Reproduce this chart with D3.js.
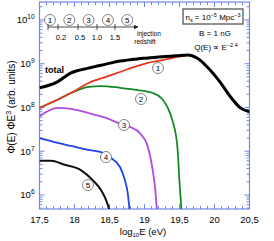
<!DOCTYPE html>
<html>
<head>
<meta charset="utf-8">
<script src="https://cdn.jsdelivr.net/npm/d3@7"></script>
<style>
  body { margin: 0; background: #fff; }
  svg { display: block; font-family: "Liberation Sans", Arial, sans-serif; }
</style>
</head>
<body>
<div id="chart"></div>
<script>
// log10 E (eV) and log10 of flux
const totalE = [17.5, 17.75, 17.95, 18.2, 18.45, 18.65, 18.9, 19.05, 19.25, 19.45, 19.62, 19.75, 19.9, 20.08, 20.23, 20.37, 20.5];
const totalF = [8.45, 8.58, 8.79, 8.90, 8.99, 9.06, 9.11, 9.13, 9.16, 9.18, 9.20, 9.13, 8.92, 8.58, 8.24, 7.99, 7.90];

const z1E = [17.5, 17.75, 17.95, 18.2, 18.45, 18.65, 18.9, 19.05, 19.25, 19.45, 19.6];
const z1F = [7.99, 8.17, 8.33, 8.56, 8.70, 8.81, 8.95, 9.02, 9.08, 9.15, 9.19];

const z2E = [17.5, 17.75, 17.95, 18.2, 18.38, 18.65, 18.93, 19.12, 19.25, 19.33, 19.4, 19.47, 19.5, 19.53];
const z2F = [7.99, 8.17, 8.33, 8.47, 8.49, 8.45, 8.39, 8.33, 8.20, 8.0, 7.7, 7.1, 6.3, 5.6];

const z3E = [17.5, 17.76, 17.95, 18.2, 18.45, 18.62, 18.8, 18.93, 19.04, 19.11, 19.15, 19.18];
const z3F = [7.8, 7.99, 7.97, 7.87, 7.76, 7.65, 7.55, 7.42, 7.14, 6.64, 6.18, 5.6];

const z4E = [17.5, 17.76, 17.95, 18.19, 18.38, 18.52, 18.65, 18.72, 18.76, 18.79];
const z4F = [7.30, 7.19, 7.12, 7.03, 6.98, 6.85, 6.64, 6.34, 6.05, 5.6];

const z5E = [17.5, 17.66, 17.86, 18.09, 18.26, 18.38, 18.45, 18.51];
const z5F = [6.78, 6.78, 6.69, 6.57, 6.34, 6.11, 5.89, 5.6];

const xTicks = [17.5, 18, 18.5, 19, 19.5, 20, 20.5];
const yTicks = [6, 7, 8, 9, 10];
const redshiftLabels = ["0.2", "0.5", "1.0", "1.5"];

const width = 274, height = 241;
const margin = {top: 2, right: 24.5, bottom: 32, left: 39.5};
const w = width - margin.left - margin.right;
const h = height - margin.top - margin.bottom;
const axisColor = "#7088e6";

const svg = d3.select("#chart").append("svg")
    .attr("width", width).attr("height", height);
const g = svg.append("g").attr("transform", `translate(${margin.left},${margin.top})`);

const x = d3.scaleLinear().domain([17.5, 20.5]).range([0, w]);
const y = d3.scaleLinear().domain([5.68, 10.41]).range([h, 0]);

g.append("defs").append("clipPath").attr("id", "clip")
  .append("rect").attr("width", w).attr("height", h);

// frame + ticks
g.append("rect").attr("width", w).attr("height", h)
  .attr("fill", "none").attr("stroke", axisColor).attr("stroke-width", 1.2);

const xMinor = d3.range(17.5, 20.51, 0.1);
const tickG = g.append("g").attr("stroke", axisColor).attr("stroke-width", 1);
xMinor.forEach(v => {
  const major = xTicks.some(t => Math.abs(t - v) < 1e-6);
  const len = major ? 5 : 3;
  tickG.append("line").attr("x1", x(v)).attr("x2", x(v)).attr("y1", h).attr("y2", h - len);
  tickG.append("line").attr("x1", x(v)).attr("x2", x(v)).attr("y1", 0).attr("y2", len);
});
for (let d = 5; d <= 10; d++) {
  for (let m = 1; m <= 9; m++) {
    const v = d + Math.log10(m);
    if (v < y.domain()[0] || v > y.domain()[1]) continue;
    const len = m === 1 ? 5 : 3;
    tickG.append("line").attr("x1", 0).attr("x2", len).attr("y1", y(v)).attr("y2", y(v));
    tickG.append("line").attr("x1", w).attr("x2", w - len).attr("y1", y(v)).attr("y2", y(v));
  }
}

// x tick labels
g.selectAll(".xl").data(xTicks).join("text")
  .attr("x", d => x(d)).attr("y", h + 13.5)
  .attr("text-anchor", "middle").attr("font-size", 9.5)
  .text(d => String(d).replace(".", ","));

// y tick labels 10^n
yTicks.forEach(d => {
  const t = g.append("text").attr("x", -5).attr("y", y(d) + 3.5)
    .attr("text-anchor", "end").attr("font-size", 9.5);
  t.append("tspan").text("10");
  t.append("tspan").attr("font-size", 6.5).attr("dy", -4).text(d);
});

// axis titles
const xt = svg.append("text").attr("x", 143).attr("y", 234.5)
  .attr("text-anchor", "middle").attr("font-size", 9.5);
xt.append("tspan").text("log");
xt.append("tspan").attr("font-size", 6).attr("dy", 2.5).text("10");
xt.append("tspan").attr("dy", -2.5).text("E (eV)");

const yt = svg.append("text").attr("transform", "translate(15,107) rotate(-90)")
  .attr("text-anchor", "middle").attr("font-size", 10);
yt.append("tspan").text("Φ(E) ΦE");
yt.append("tspan").attr("font-size", 7).attr("dy", -4).text("3");
yt.append("tspan").attr("dy", 4).text(" (arb. units)");

// curves
const line = d3.line().x(d => x(d[0])).y(d => y(d[1])).curve(d3.curveMonotoneX);
const series = [
  {e: z5E, f: z5F, color: "#111", sw: 2},
  {e: z4E, f: z4F, color: "#1f44e8", sw: 1.8},
  {e: z3E, f: z3F, color: "#b24be0", sw: 1.8},
  {e: z2E, f: z2F, color: "#168a26", sw: 1.8},
  {e: z1E, f: z1F, color: "#e8361e", sw: 1.8},
  {e: totalE, f: totalF, color: "#000", sw: 3}
];
const curveG = g.append("g").attr("clip-path", "url(#clip)");
series.forEach(s => {
  curveG.append("path").datum(d3.zip(s.e, s.f))
    .attr("d", line).attr("fill", "none")
    .attr("stroke", s.color).attr("stroke-width", s.sw);
});

// circled markers
function circled(cx, cy, label) {
  svg.append("circle").attr("cx", cx).attr("cy", cy).attr("r", 5.5)
    .attr("fill", "#fff").attr("stroke", "#666").attr("stroke-width", 0.8);
  svg.append("text").attr("x", cx).attr("y", cy + 3).attr("text-anchor", "middle")
    .attr("font-size", 8).text(label);
}
circled(158, 68, "1");
circled(141, 99, "2");
circled(124, 125, "3");
circled(106, 157, "4");
circled(88, 185, "5");

svg.append("text").attr("x", 45).attr("y", 73).attr("font-size", 9)
  .attr("font-weight", "bold").text("total");

// redshift inset
["1", "2", "3", "4", "5"].forEach((l, i) => circled(50 + i * 19.3, 20, l));
svg.append("defs").append("marker").attr("id", "arr")
  .attr("viewBox", "0 0 10 10").attr("refX", 9).attr("refY", 5)
  .attr("markerWidth", 6).attr("markerHeight", 6).attr("orient", "auto")
  .append("path").attr("d", "M0,0L10,5L0,10z").attr("fill", "#222");
svg.append("line").attr("x1", 48).attr("x2", 138).attr("y1", 27).attr("y2", 27)
  .attr("stroke", "#222").attr("stroke-width", 0.8).attr("marker-end", "url(#arr)");
[48, 58, 78, 97, 115].forEach(tx => {
  svg.append("line").attr("x1", tx).attr("x2", tx).attr("y1", 24).attr("y2", 30)
    .attr("stroke", "#222").attr("stroke-width", 0.8);
});
redshiftLabels.forEach((l, i) => {
  svg.append("text").attr("x", [61, 80, 97, 115][i]).attr("y", 40)
    .attr("text-anchor", "middle").attr("font-size", 7.5).text(l);
});
svg.append("text").attr("x", 137).attr("y", 36).attr("font-size", 6.5).text("injection");
svg.append("text").attr("x", 145).attr("y", 44).attr("text-anchor", "middle")
  .attr("font-size", 6.5).text("redshift");

// parameters box
svg.append("rect").attr("x", 183).attr("y", 9).attr("width", 60).attr("height", 15)
  .attr("fill", "#fff").attr("stroke", "#555").attr("stroke-width", 1.3);
const ns = svg.append("text").attr("x", 213).attr("y", 20).attr("text-anchor", "middle").attr("font-size", 8);
ns.append("tspan").text("n");
ns.append("tspan").attr("font-size", 5.5).attr("dy", 2).text("s");
ns.append("tspan").attr("dy", -2).text(" = 10");
ns.append("tspan").attr("font-size", 5.5).attr("dy", -3).text("−5");
ns.append("tspan").attr("dy", 3).text(" Mpc");
ns.append("tspan").attr("font-size", 5.5).attr("dy", -3).text("−3");

svg.append("text").attr("x", 215).attr("y", 36).attr("text-anchor", "middle")
  .attr("font-size", 8).text("B = 1 nG");
const q = svg.append("text").attr("x", 216).attr("y", 50).attr("text-anchor", "middle").attr("font-size", 8);
q.append("tspan").text("Q(E) ∝ E");
q.append("tspan").attr("font-size", 5.5).attr("dy", -3).text("−2.4");
</script>
</body>
</html>
